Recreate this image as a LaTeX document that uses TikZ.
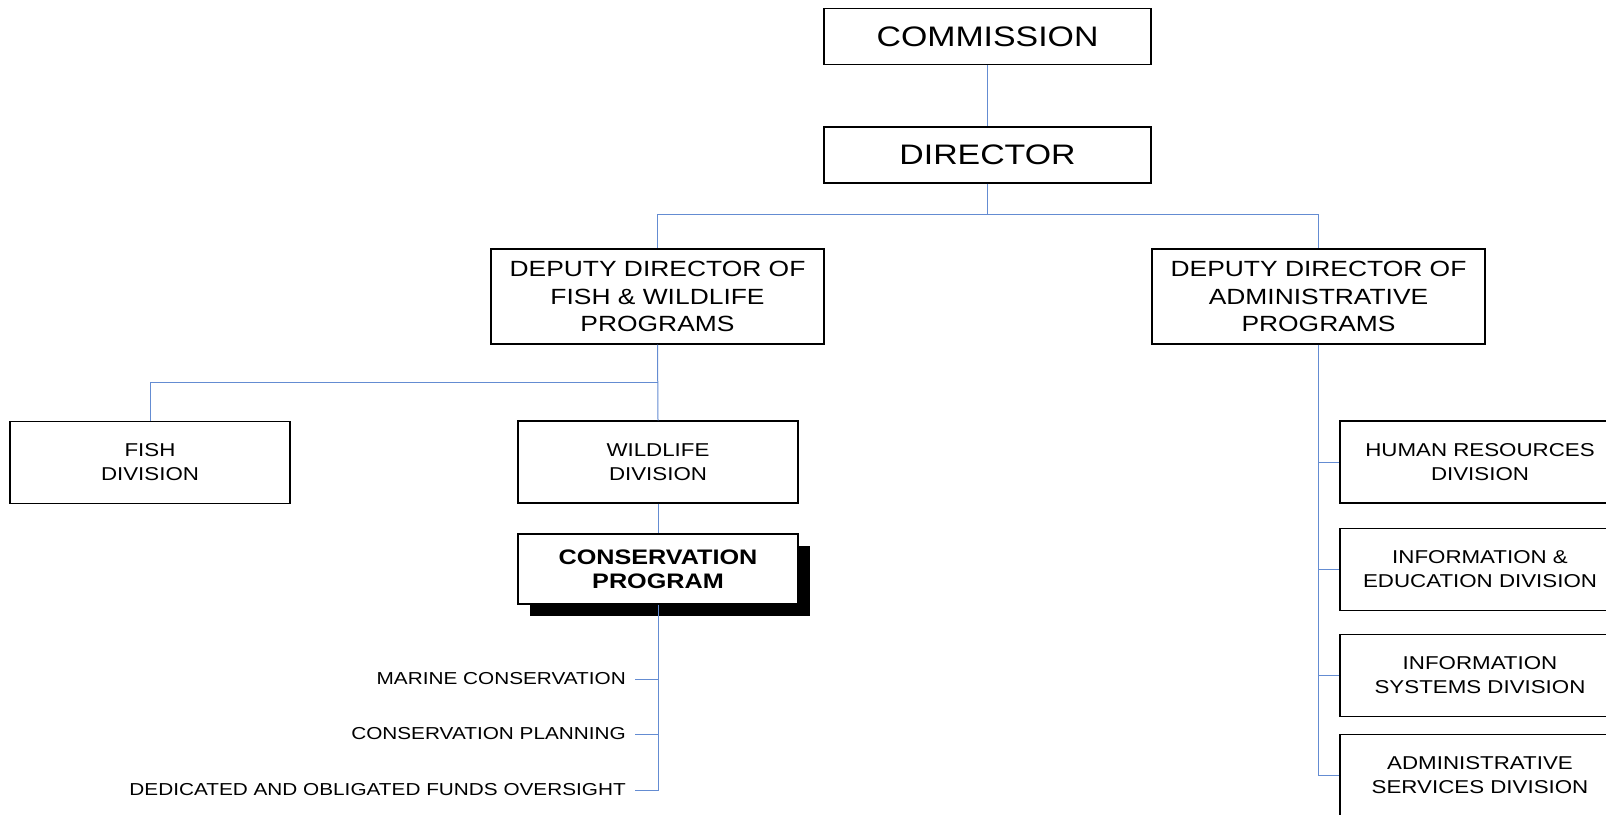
\documentclass[tikz,border=0pt]{standalone}
\usepackage{fontspec}
\setmainfont[FakeStretch=1.2]{Liberation Sans}
\usetikzlibrary{shadows}
\definecolor{orgline}{RGB}{100,140,210}

\begin{document}
\begin{tikzpicture}[x=1pt,y=-1pt]
        \tikzstyle{every node}+=[inner sep=0pt]
        \tikzstyle{box}=[draw=black, line width=1.1pt, fill=white, align=center, minimum width=280pt, minimum height=82pt, font=\fontsize{18.6}{24}\selectfont]
        \tikzstyle{topbox}=[box, minimum width=327pt, minimum height=56pt, font=\fontsize{28.2}{34}\selectfont]
        \tikzstyle{deputy}=[box, minimum width=333pt, minimum height=95pt, font=\fontsize{22}{27.5}\selectfont]
        \tikzstyle{item}=[anchor=east, font=\fontsize{17.3}{20}\selectfont]
        \tikzstyle{link}=[draw=orgline, line width=1pt]
        \useasboundingbox (0,0) rectangle (1606,814);
        % top of the chart
        \node [topbox] (comm) at (987.5,36.5) {COMMISSION};
        \node [topbox] (dir) at (987.5,155) {DIRECTOR};
        \coordinate (split) at (987.5,214);
        \node [deputy] (dfw) at (657.5,296.5) {DEPUTY DIRECTOR OF\\FISH \& WILDLIFE\\PROGRAMS};
        \node [deputy] (dadm) at (1318.5,296.5) {DEPUTY DIRECTOR OF\\ADMINISTRATIVE\\PROGRAMS};
        % fish & wildlife side
        \node [box] (fish) at (150,462.5) {FISH\\DIVISION};
        \node [box] (wild) at (658,462) {WILDLIFE\\DIVISION};
        \node [box, minimum height=70pt, font=\fontsize{21}{24}\selectfont\bfseries,
               drop shadow={opacity=1, fill=black, shadow xshift=12pt, shadow yshift=-12pt}] (cons) at (658,569) {CONSERVATION\\PROGRAM};
        \node [item] (marine) at (626,679) {MARINE CONSERVATION};
        \node [item] (plan) at (626,734) {CONSERVATION PLANNING};
        \node [item] (funds) at (626,790) {DEDICATED AND OBLIGATED FUNDS OVERSIGHT};
        % administrative side
        \node [box] (hr) at (1480,462) {HUMAN RESOURCES\\DIVISION};
        \node [box] (ie) at (1480,569.5) {INFORMATION \&\\EDUCATION DIVISION};
        \node [box] (is) at (1480,675.5) {INFORMATION\\SYSTEMS DIVISION};
        \node [box] (as) at (1480,775.5) {ADMINISTRATIVE\\SERVICES DIVISION};
        % connectors
        \draw [link] (comm) -- (dir);
        \draw [link] (dir.south) -- (split) -| (dfw.north);
        \draw [link] (split) -| (dadm.north);
        \draw [link] (dfw.south) -- (wild.north);
        \draw [link] (dfw.south |- 0,382) -| (fish.north);
        \draw [link] (wild) -- (cons);
        \draw [link] (cons.south) |- ([xshift=9pt]funds.east);
        \foreach \n in {marine,plan}
            \draw [link] ([xshift=9pt]\n.east) -- (cons.south |- \n.east);
        \draw [link] (dadm.south) |- (as.west);
        \foreach \n in {hr,ie,is}
            \draw [link] (dadm.south |- \n.west) -- (\n.west);
\end{tikzpicture}
\end{document}
